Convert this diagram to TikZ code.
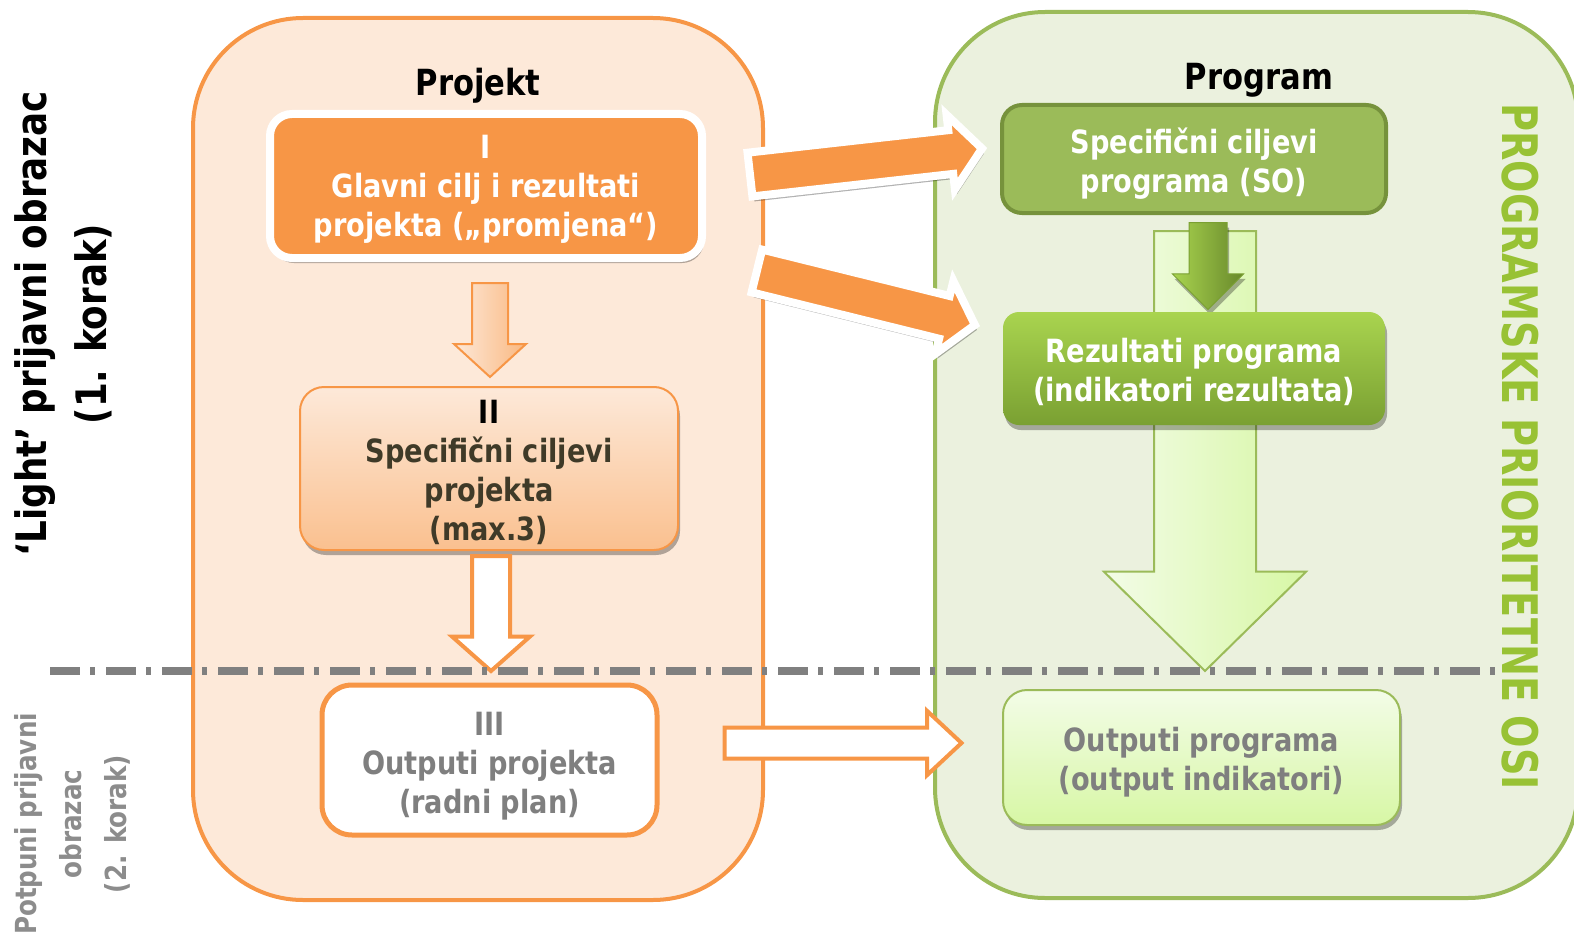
\documentclass[tikz,border=0pt]{standalone}
\usepackage{fontspec}
\setmainfont{DejaVu Sans}[FakeStretch=0.85]
\newfontfamily\osifont{DejaVu Sans}[FakeStretch=0.78]
\usetikzlibrary{calc,shapes.arrows,shadows}
\definecolor{projorange}{RGB}{247,150,70}
\definecolor{projpeach}{RGB}{253,233,217}
\definecolor{projdeep}{RGB}{250,192,143}
\definecolor{proggreen}{RGB}{155,187,89}
\definecolor{progpale}{RGB}{235,241,222}
\definecolor{progolive}{RGB}{118,146,60}
\definecolor{proglime}{RGB}{169,212,79}
\definecolor{progdark}{RGB}{122,160,50}
\definecolor{progmint}{RGB}{243,252,231}
\definecolor{progleaf}{RGB}{215,247,165}
\definecolor{osigreen}{RGB}{152,194,52}
\definecolor{textgrey}{RGB}{127,127,127}
\definecolor{sidegrey}{RGB}{140,140,140}
\definecolor{textolive}{RGB}{63,58,40}
\definecolor{divgrey}{RGB}{128,128,128}
\tikzset{%
  frame/.style={rectangle, rounded corners=55pt, line width=2pt, inner sep=0pt},%
  projframe/.style={frame, draw=projorange, fill=projpeach, minimum width=285pt, minimum height=441pt},%
  progframe/.style={frame, draw=proggreen, fill=progpale, minimum width=321.5pt, minimum height=443pt},%
  boxtext/.style={font=\bfseries\fontsize{16}{19.5}\selectfont, align=center, inner sep=0pt},%
  headtitle/.style={font=\bfseries\fontsize{18}{22}\selectfont, anchor=base},%
  softshadow/.style={drop shadow={shadow xshift=1pt, shadow yshift=-2.5pt, opacity=0.3, fill=black}},%
  blockarrow/.style={single arrow, inner xsep=0pt, minimum width=0pt},%
  jumparrow/.style={blockarrow, fill=projorange, draw=white, line width=4pt, inner ysep=9pt,%
    single arrow head extend=7.75pt, single arrow tip angle=100, softshadow},%
  hollowarrow/.style={blockarrow, fill=white, draw=projorange, line width=2pt}%
}
\begin{document}
\begin{tikzpicture}[x=0.5pt, y=-0.5pt]%
\useasboundingbox (0, 0) rectangle (1574, 947);%
% two frames
\node[projframe] (proj) at (478, 459) {};%
\node[progframe] (prog) at (1256.5, 455) {};%
\node[headtitle] (projtitle) at (478, 96) {Projekt};%
\node[headtitle] (progtitle) at (1259, 90) {Program};%
% programme side
\node[rectangle, rounded corners=10pt, fill=proggreen, draw=progolive, line width=2pt,%
  minimum width=192pt, minimum height=54pt] (sop) at (1194, 159) {};%
\node[boxtext, text=white] (soptext) at ([yshift=-2.25pt]sop.center) {Specifični ciljevi\\programa (SO)};%
\node[blockarrow, rotate=-90, anchor=tail, left color=progmint, right color=progleaf, draw=proggreen, line width=1pt,%
  minimum height=220pt, inner ysep=25pt, single arrow head extend=25pt, single arrow tip angle=91] (flow) at ($(sop.south)+(11, 15)$) {};%
\node[blockarrow, rotate=-90, anchor=tail, left color=proglime, right color=progdark!85!black, draw=progdark, line width=0.5pt,%
  minimum height=43.5pt, inner ysep=9.25pt, single arrow head extend=8.25pt, single arrow tip angle=90, softshadow] (step1) at ($(sop.south)+(14, 7)$) {};%
\node[rectangle, rounded corners=8pt, top color=proglime, bottom color=progdark,%
  minimum width=191pt, minimum height=56.5pt, softshadow] (res) at (1194, 368.5) {};%
\node[boxtext, text=white] (restext) at ([yshift=-1.5pt]res.center) {Rezultati programa\\(indikatori rezultata)};%
\node[rectangle, rounded corners=12pt, top color=progmint, bottom color=progleaf, draw=proggreen, line width=1pt,%
  minimum width=198.5pt, minimum height=67.5pt, softshadow] (outprog) at (1201.5, 757.5) {};%
\node[boxtext, text=textgrey] (outprogtext) at ([yshift=-2.5pt]outprog.center) {Outputi programa\\(output indikatori)};%
% project side
\node[rectangle, rounded corners=11pt, fill=projorange, draw=white, line width=4pt,%
  minimum width=216pt, minimum height=72pt, softshadow] (goal) at (486, 186) {};%
\node[boxtext, text=white] (goaltext) at ([yshift=-1.5pt]goal.center) {I\\Glavni cilj i rezultati\\projekta („promjena“)};%
\node[blockarrow, rotate=-90, anchor=tail, left color=projpeach, right color=projdeep!80!projorange, draw=projorange, line width=1pt,%
  minimum height=47pt, inner ysep=8.5pt, single arrow head extend=9pt, single arrow tip angle=95] (down1) at ($(goal.south)+(4, 20)$) {};%
\node[rectangle, rounded corners=12pt, top color=projpeach, bottom color=projdeep, draw=projorange, line width=1pt,%
  minimum width=189pt, minimum height=81.5pt, softshadow] (spec) at (489, 468.5) {};%
\node[boxtext, text=textolive] (spectext) at ([yshift=-2pt]spec.center) {\textcolor{black}{II}\\Specifični ciljevi\\projekta\\(max.3)};%
\node[hollowarrow, rotate=-90, anchor=tail, minimum height=57.5pt, inner ysep=8.5pt, single arrow head extend=10pt,%
  single arrow tip angle=97] (down2) at ($(spec.south)+(2, 3)$) {};%
\node[rectangle, rounded corners=15pt, fill=white, draw=projorange, line width=2.5pt,%
  minimum width=167.5pt, minimum height=75pt] (outp) at (489.5, 760) {};%
\node[boxtext, text=textgrey] (outptext) at ([yshift=-3.25pt]outp.center) {III\\Outputi projekta\\(radni plan)};%
% links between the two sides
\node[jumparrow, rotate=6.4, anchor=tail, minimum height=116.75pt] (toso) at ($(goal.east)+(40, -11)$) {};%
\node[jumparrow, rotate=-13.9, anchor=tail, minimum height=112.3pt] (tores) at ($(goal.east)+(47, 84)$) {};%
\node[hollowarrow, anchor=tail, minimum height=118.5pt, inner ysep=6.75pt, single arrow head extend=8.25pt,%
  single arrow tip angle=86] (across) at ($(outp.east)+(63, -17)$) {};%
% step divider
\coordinate (divl) at (50, 671);%
\coordinate (divr) at (1497, 671);%
\draw[draw=divgrey, line width=4pt, dash pattern=on 15pt off 5pt on 2.5pt off 5.5pt] (divl) -- (divr);%
% side labels
\node[font=\bfseries\fontsize{21}{30}\selectfont, rotate=90, align=center] (light) at (63, 324) {‘Light’ prijavni obrazac\\(1. korak)};%
\node[font=\bfseries\fontsize{14.5}{22.5}\selectfont, text=sidegrey, rotate=90, align=center] (full) at (72, 824) {Potpuni prijavni\\obrazac\\(2. korak)};%
\node[font=\osifont\bfseries\fontsize{24.5}{29}\selectfont, text=osigreen, rotate=-90, anchor=base] (axis) at (1502, 446.5) {PROGRAMSKE PRIORITETNE OSI};%
\end{tikzpicture}
\end{document}
